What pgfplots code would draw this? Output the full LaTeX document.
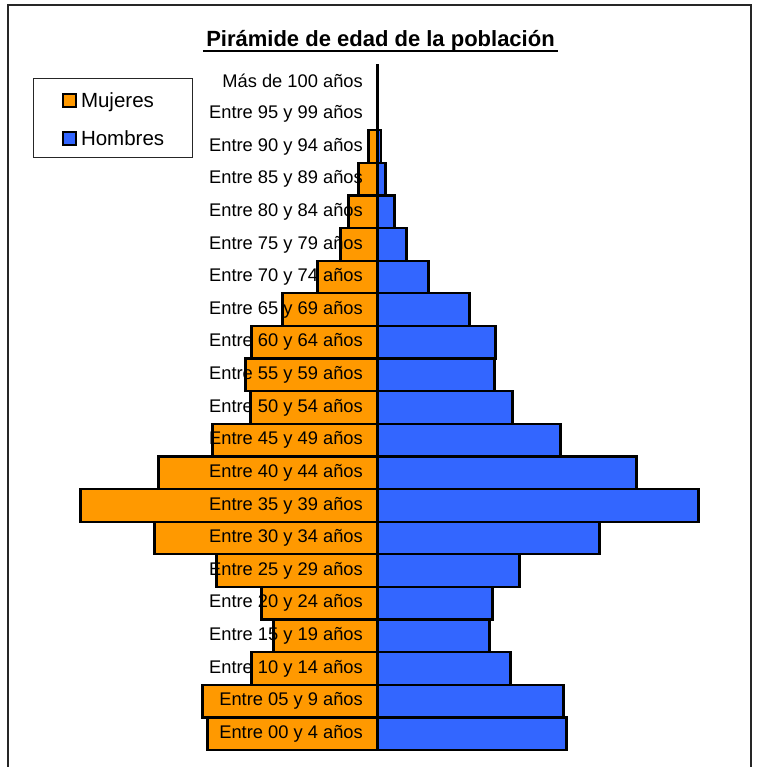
\documentclass[border=0pt]{standalone}
\usepackage{fontspec}
\setmainfont{Liberation Sans}
\usepackage{pgfplots}
\pgfplotsset{compat=1.18}
\definecolor{orangeM}{RGB}{255,153,0}
\definecolor{blueH}{RGB}{51,102,255}
\begin{document}
\begin{tikzpicture}[x=1pt,y=1pt]
\useasboundingbox (0,0) rectangle (758,767);
\draw[line width=1.4pt, black!85] (8,0) -- (8,762) -- (751,762) -- (751,0);
\node[anchor=base, font=\fontsize{22}{26}\selectfont\bfseries] (t) at (380.5,720.3) {Pirámide de edad de la población};
\draw[line width=2pt] ([yshift=-4.8pt]t.base west) -- ([yshift=-4.8pt]t.base east);
\begin{axis}[
  at={(8pt,17pt)}, anchor=south west,
  scale only axis, width=743pt, height=685pt,
  xmin=-369.5, xmax=373.5, ymin=-0.5, ymax=20.5,
  enlargelimits=false, clip=false,
  axis line style={draw=none},
  major tick length=0pt,
  xtick=\empty,
  ytick={0,...,20},
  yticklabels={Entre 00 y 4 años, Entre 05 y 9 años, Entre 10 y 14 años, Entre 15 y 19 años, Entre 20 y 24 años, Entre 25 y 29 años, Entre 30 y 34 años, Entre 35 y 39 años, Entre 40 y 44 años, Entre 45 y 49 años, Entre 50 y 54 años, Entre 55 y 59 años, Entre 60 y 64 años, Entre 65 y 69 años, Entre 70 y 74 años, Entre 75 y 79 años, Entre 80 y 84 años, Entre 85 y 89 años, Entre 90 y 94 años, Entre 95 y 99 años, Más de 100 años},
  yticklabel style={font=\fontsize{18.3}{22}\selectfont, anchor=east, inner sep=0pt, xshift=355pt},
  axis on top,
  legend style={at={(rel axis cs:0.034,0.9806)}, anchor=north west, draw=black!85, line width=0.9pt,
    inner xsep=28.5pt, inner ysep=12pt, row sep=21pt, column sep=4pt,
    font=\fontsize{20.5}{24}\selectfont,
    nodes={inner sep=0pt, text height=17pt, text depth=0pt}},
  legend cell align=left,
  legend image code/.code={\draw[#1, line width=1.8pt] (0pt,-7.5pt) rectangle (13pt,5.5pt);},
]
\addplot[xbar, bar width=1, bar shift=0pt, fill=orangeM, draw=black, line width=2.3pt] coordinates {
(-170,0) (-175,1) (-126,2) (-104,3) (-116,4) (-161,5) (-223,6) (-297,7) (-219,8) (-165,9)
(-127,10) (-132,11) (-126,12) (-95,13) (-60,14) (-37,15) (-29,16) (-19,17) (-9,18) (-0.5,19) (-0.3,20)};
\addlegendentry{Mujeres}
\addplot[xbar, bar width=1, bar shift=0pt, fill=blueH, draw=black, line width=2.3pt] coordinates {
(189,0) (186,1) (133,2) (112,3) (115,4) (142,5) (222,6) (321,7) (259,8) (183,9)
(135,10) (117,11) (118,12) (92,13) (51,14) (29,15) (17,16) (8,17) (3.5,18) (0.5,19) (0.3,20)};
\addlegendentry{Hombres}
\end{axis}
\end{tikzpicture}
\end{document}
